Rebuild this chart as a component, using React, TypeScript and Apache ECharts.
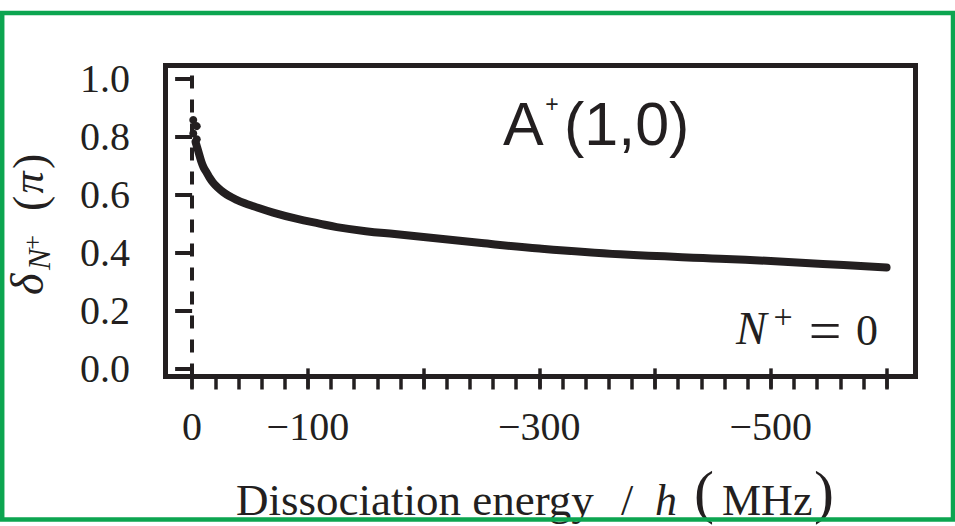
import React, { useEffect, useRef } from "react";
import * as echarts from "echarts";

// Curve: dissociation energy / h (MHz) vs δ_{N+} (π)
const ENERGY_MHZ = [-3, -5, -8, -10, -13, -15, -18, -22, -27, -32, -38, -45, -53, -70, -90, -110, -125, -150, -175, -200, -250, -300, -370, -456, -500, -545, -600];
const DELTA_PI = [0.78, 0.753, 0.712, 0.692, 0.672, 0.658, 0.641, 0.624, 0.607, 0.594, 0.582, 0.57, 0.559, 0.537, 0.516, 0.499, 0.487, 0.473, 0.463, 0.453, 0.432, 0.413, 0.393, 0.378, 0.37, 0.36, 0.348];

// scattered points right at threshold
const START_ENERGY = [-1, -4, -1, -4];
const START_DELTA = [0.856, 0.835, 0.81, 0.79];

const X_MAJOR_TICKS = [0, -100, -200, -300, -400, -500, -600];
const X_MINOR_TICKS = [0, -20, -40, -60, -80, -100, -120, -140, -160, -180, -200, -220, -240, -260, -280, -300, -320, -340, -360, -380, -400, -420, -440, -460, -480, -500, -520, -540, -560, -580, -600];
const X_TICK_LABELS = [0, -100, -300, -500];
const Y_TICKS = [0, 0.2, 0.4, 0.6, 0.8, 1.0];

const INK = "#231f20";
const GREEN = "#0ca550";
const SERIF = "Liberation Serif";
const SANS = "Liberation Sans";

function txt(x: number, y: number, text: string, fontSize: number, opts: any = {}) {
  return {
    type: "text",
    x,
    y,
    z: 50,
    style: {
      text,
      fontSize,
      fontFamily: opts.family || SERIF,
      fontStyle: opts.italic ? "italic" : "normal",
      fill: INK,
      align: opts.align || "left",
      verticalAlign: "middle",
    },
  };
}

export default function App() {
  const ref = useRef<HTMLDivElement>(null);

  useEffect(() => {
    if (!ref.current) return;
    const chart = echarts.init(ref.current, undefined, { renderer: "svg" });

    const lineData = ENERGY_MHZ.map((e, i) => [e, DELTA_PI[i]]);
    const startData = START_ENERGY.map((e, i) => [e, START_DELTA[i]]);

    const xCommon = {
      type: "value",
      min: -625,
      max: 23,
      inverse: true,
      position: "bottom",
      gridIndex: 0,
      axisLine: { show: false },
      splitLine: { show: false },
    };

    chart.setOption({
      animation: false,
      backgroundColor: "#ffffff",
      grid: {
        left: 165.5,
        top: 65.5,
        right: 39.5,
        bottom: 149.5,
        show: true,
        borderColor: INK,
        borderWidth: 5,
        backgroundColor: "transparent",
      },
      xAxis: [
        {
          ...xCommon,
          axisTick: {
            show: true,
            customValues: X_MAJOR_TICKS,
            length: 20,
            lineStyle: { color: INK, width: 3.5 },
          },
          axisLabel: {
            show: true,
            customValues: X_TICK_LABELS,
            formatter: (v: number) => (v === 0 ? "0" : "\u2212" + Math.abs(v)),
            fontFamily: SERIF,
            fontSize: 40,
            color: INK,
            margin: 30,
          },
        },
        {
          ...xCommon,
          axisTick: {
            show: true,
            customValues: X_MINOR_TICKS,
            length: 13,
            lineStyle: { color: INK, width: 3.5 },
          },
          axisLabel: { show: false },
        },
      ],
      yAxis: {
        type: "value",
        min: -0.028,
        max: 1.044,
        axisLine: { show: false },
        splitLine: { show: false },
        axisTick: {
          show: true,
          customValues: Y_TICKS,
          length: 17,
          lineStyle: { color: INK, width: 4 },
        },
        axisLabel: {
          show: true,
          customValues: Y_TICKS,
          formatter: (v: number) => v.toFixed(1),
          fontFamily: SERIF,
          fontSize: 40,
          color: INK,
          margin: 35.5,
        },
      },
      series: [
        {
          type: "line",
          xAxisIndex: 0,
          data: lineData,
          smooth: 0.4,
          showSymbol: false,
          lineStyle: { color: INK, width: 8, cap: "round", join: "round" },
          markLine: {
            silent: true,
            symbol: "none",
            label: { show: false },
            lineStyle: { color: INK, width: 4, type: [13, 11] },
            data: [{ xAxis: 0 }],
          },
          z: 3,
        },
        {
          type: "scatter",
          xAxisIndex: 0,
          data: startData,
          symbolSize: 8,
          itemStyle: { color: INK, opacity: 1 },
          z: 3,
        },
      ],
      graphic: [
        // A+(1,0)
        txt(503, 145 - 0.3465 * 61, "A", 61, { family: SANS }),
        txt(552, 104, "+", 23, { family: SANS, align: "center" }),
        txt(564, 145 - 0.3465 * 61, "(1,0)", 61, { family: SANS }),
        // N+ = 0
        txt(736, 344 - 0.3375 * 46, "N", 46, { italic: true }),
        txt(783, 316, "+", 34, { align: "center" }),
        txt(825, 330.2, "=", 58, { align: "center" }),
        txt(867, 345 - 0.3375 * 44, "0", 44, { align: "center" }),
        // x axis title
        txt(236, 515 - 0.3375 * 45, "Dissociation energy", 45),
        txt(627, 515 - 0.3375 * 44, "/", 44, { align: "center" }),
        txt(655, 515 - 0.3375 * 44, "h", 44, { italic: true }),
        txt(694, 512 - 0.3375 * 60, "(", 60),
        txt(722, 515 - 0.3375 * 44, "MHz", 44),
        txt(814, 512 - 0.3375 * 60, ")", 60),
        // y axis title (rotated)
        {
          type: "group",
          x: 43,
          y: 226,
          rotation: Math.PI / 2,
          z: 50,
          children: [
            txt(-69, -0.3375 * 46, "\u03b4", 46, { italic: true }),
            txt(-44, 7 - 0.3375 * 32, "N", 32, { italic: true }),
            txt(-16.5, -10.7, "+", 26, { align: "center" }),
            txt(15, -0.3375 * 46 + 2, "(", 46),
            txt(43.5, -0.3375 * 44, "\u03c0", 44, { italic: true, align: "center" }),
            txt(57, -0.3375 * 46 + 2, ")", 46),
          ],
        },
        // green frame
        {
          type: "rect",
          z: 100,
          shape: { x: 2.2, y: 13, width: 950.8, height: 506.5 },
          style: { fill: "none", stroke: GREEN, lineWidth: 4.5 },
        },
      ],
    });

    return () => chart.dispose();
  }, []);

  return (
    <div
      ref={ref}
      style={{ position: "absolute", left: 0, top: 0, width: 955, height: 526 }}
    />
  );
}
